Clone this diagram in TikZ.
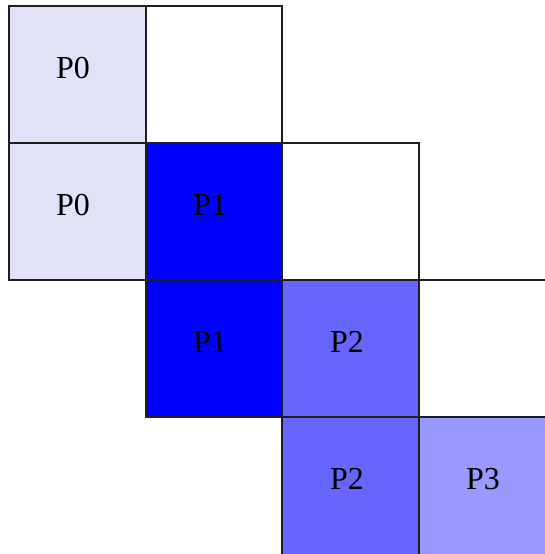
\documentclass[tikz,border=0pt]{standalone}
\usepackage{fontspec}
\setmainfont{Liberation Serif}
\definecolor{pzero}{RGB}{225,225,248}
\definecolor{pone}{RGB}{0,0,255}
\definecolor{ptwo}{RGB}{102,102,255}
\definecolor{pthree}{RGB}{153,153,255}
\definecolor{gridline}{RGB}{30,30,30}
\tikzset{
  cellbox/.style={draw=gridline, line width=1.2pt},
  celltext/.style={font=\fontsize{32}{32}\selectfont, inner sep=0pt, text=black},
}
\begin{document}
\begin{tikzpicture}[x=1pt,y=-1pt]
\useasboundingbox (0,0) rectangle (545,554);
\clip (0,0) rectangle (545,554);
% fills
\fill[pzero] (9,6) rectangle (146,143);
\fill[pzero] (9,143) rectangle (146,280);
\fill[pone] (146,143) rectangle (282,280);
\fill[pone] (146,280) rectangle (282,417);
\fill[ptwo] (282,280) rectangle (419,417);
\fill[ptwo] (282,417) rectangle (419,560);
\fill[pthree] (419,417) rectangle (560,560);
% borders
\draw[cellbox] (9,6) rectangle (146,143);
\draw[cellbox] (146,6) rectangle (282,143);
\draw[cellbox] (9,143) rectangle (146,280);
\draw[cellbox] (146,143) rectangle (282,280);
\draw[cellbox] (282,143) rectangle (419,280);
\draw[cellbox] (146,280) rectangle (282,417);
\draw[cellbox] (282,280) rectangle (419,417);
\draw[cellbox] (419,280) rectangle (560,417);
\draw[cellbox] (282,417) rectangle (419,560);
\draw[cellbox] (419,417) rectangle (560,560);
% labels
\node[celltext] (t00) at (73,68) {P0};
\node[celltext] (t10) at (73,205) {P0};
\node[celltext] (t11) at (210,205) {P1};
\node[celltext] (t21) at (210,342) {P1};
\node[celltext] (t22) at (347,342) {P2};
\node[celltext] (t32) at (347,479) {P2};
\node[celltext] (t33) at (483,479) {P3};
\end{tikzpicture}
\end{document}
